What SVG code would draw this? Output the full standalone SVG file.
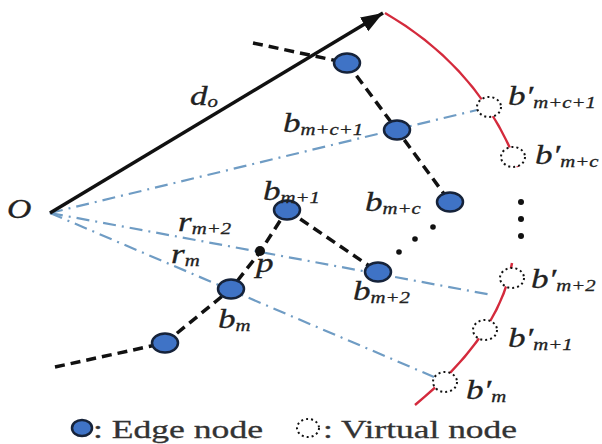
<svg xmlns="http://www.w3.org/2000/svg" width="602" height="444" viewBox="0 0 602 444">
<style>
.lbl{font-family:"Liberation Serif","Times New Roman",serif;font-style:italic;font-size:27px;fill:#222;stroke:#222;stroke-width:0.3}
.sub{font-size:16px}
.leg{font-family:"Liberation Serif","Times New Roman",serif;font-size:25px;fill:#333;stroke:#333;stroke-width:0.3}
.edge{fill:#3f73c6;stroke:#16233a;stroke-width:2.5}
.virt{fill:#fff;stroke:#111;stroke-width:2;stroke-dasharray:2 3}
.dash{fill:none;stroke:#111;stroke-width:3.5;stroke-dasharray:10 6}
.ray{fill:none;stroke:#6f9cc4;stroke-width:2.2;stroke-dasharray:13 6 2 6}
.red{fill:none;stroke:#d42a3c;stroke-width:2.5}
.dot{fill:#111}
</style>
<defs>
<marker id="arrow" markerUnits="userSpaceOnUse" markerWidth="24" markerHeight="18" refX="22" refY="8" orient="auto">
<path d="M0,0 L22,8 L0,16 z" fill="#111"/>
</marker>
</defs>
<rect width="602" height="444" fill="#fff"/>
<g id="connectors">
<path class="red" d="M385,13 Q480,68 518,167"/>
<path class="red" d="M512,263 Q500,335 415,405"/>
<path class="ray" d="M50,213 L477,110"/>
<path class="ray" d="M50,213 L492,295"/>
<path class="ray" d="M50,213 L434,377"/>
<path class="dash" d="M253,43 L347,63 L397,130 L450,202"/>
<path class="dash" d="M287,210 L378,272"/>
<path class="dash" d="M55,367 L165,343 L231,289 L260,252 L287,210"/>
<circle class="dot" cx="399" cy="252" r="2.8"/>
<circle class="dot" cx="415" cy="239" r="2.8"/>
<circle class="dot" cx="433" cy="227" r="2.8"/>
<circle class="dot" cx="521" cy="202" r="3"/>
<circle class="dot" cx="521" cy="219" r="3"/>
<circle class="dot" cx="521" cy="236" r="3"/>
<path d="M50,213 L383,13" fill="none" stroke="#111" stroke-width="3.5" marker-end="url(#arrow)"/>
</g>
<g id="origin">
<text class="lbl" transform="translate(7,218) scale(1.25 1)" font-size="28">O</text>
<text class="lbl" transform="translate(190,105) scale(1.3 1)">d<tspan class="sub" dy="2">o</tspan></text>
</g>
<g id="n_top"><ellipse class="edge" cx="347" cy="63" rx="13" ry="9.5"/></g>
<g id="b_mc1"><ellipse class="edge" cx="397" cy="130" rx="13" ry="9.5"/>
<text class="lbl" transform="translate(283,132) scale(1.3 1)">b<tspan class="sub" dy="3">m+c+1</tspan></text></g>
<g id="b_mc"><ellipse class="edge" cx="450" cy="202" rx="13" ry="9.5"/>
<text class="lbl" transform="translate(365,211) scale(1.3 1)">b<tspan class="sub" dy="3">m+c</tspan></text></g>
<g id="b_m1"><ellipse class="edge" cx="287" cy="210" rx="13" ry="9.5"/>
<text class="lbl" transform="translate(263,200) scale(1.3 1)">b<tspan class="sub" dy="3">m+1</tspan></text></g>
<g id="b_m2"><ellipse class="edge" cx="378" cy="272" rx="13" ry="9.5"/>
<text class="lbl" transform="translate(353,300) scale(1.3 1)">b<tspan class="sub" dy="3">m+2</tspan></text></g>
<g id="b_m"><ellipse class="edge" cx="231" cy="289" rx="13" ry="9.5"/>
<text class="lbl" transform="translate(218,328) scale(1.3 1)">b<tspan class="sub" dy="3">m</tspan></text></g>
<g id="n_low"><ellipse class="edge" cx="165" cy="343" rx="13" ry="9.5"/></g>
<g id="p"><circle cx="260" cy="251" r="5" fill="#111"/>
<text class="lbl" transform="translate(256,272) scale(1.3 1)">p</text></g>
<g id="ray_labels">
<text class="lbl" transform="translate(178,231) scale(1.3 1)">r<tspan class="sub" dy="3">m+2</tspan></text>
<text class="lbl" transform="translate(171,263) scale(1.3 1)">r<tspan class="sub" dy="3">m</tspan></text>
</g>
<g id="v_mc1"><ellipse class="virt" cx="489" cy="107" rx="12" ry="10"/>
<text class="lbl" transform="translate(508,105) scale(1.3 1)">b′<tspan class="sub" dy="3">m+c+1</tspan></text></g>
<g id="v_mc"><ellipse class="virt" cx="513" cy="157" rx="12" ry="10"/>
<text class="lbl" transform="translate(535,164) scale(1.3 1)">b′<tspan class="sub" dy="3">m+c</tspan></text></g>
<g id="v_m2"><ellipse class="virt" cx="512" cy="278" rx="12" ry="10"/>
<text class="lbl" transform="translate(531,288) scale(1.3 1)">b′<tspan class="sub" dy="3">m+2</tspan></text></g>
<g id="v_m1"><ellipse class="virt" cx="485" cy="330" rx="12" ry="10"/>
<text class="lbl" transform="translate(508,347) scale(1.3 1)">b′<tspan class="sub" dy="3">m+1</tspan></text></g>
<g id="v_m"><ellipse class="virt" cx="445" cy="382" rx="12" ry="10"/>
<text class="lbl" transform="translate(466,399) scale(1.3 1)">b′<tspan class="sub" dy="3">m</tspan></text></g>
<g id="legend">
<ellipse class="edge" cx="82" cy="428" rx="10" ry="8"/>
<text class="leg" x="93" y="438" textLength="170" lengthAdjust="spacingAndGlyphs">: Edge node</text>
<ellipse class="virt" cx="308" cy="428" rx="11" ry="9"/>
<text class="leg" x="323" y="438" textLength="194" lengthAdjust="spacingAndGlyphs">: Virtual node</text>
</g>
</svg>
